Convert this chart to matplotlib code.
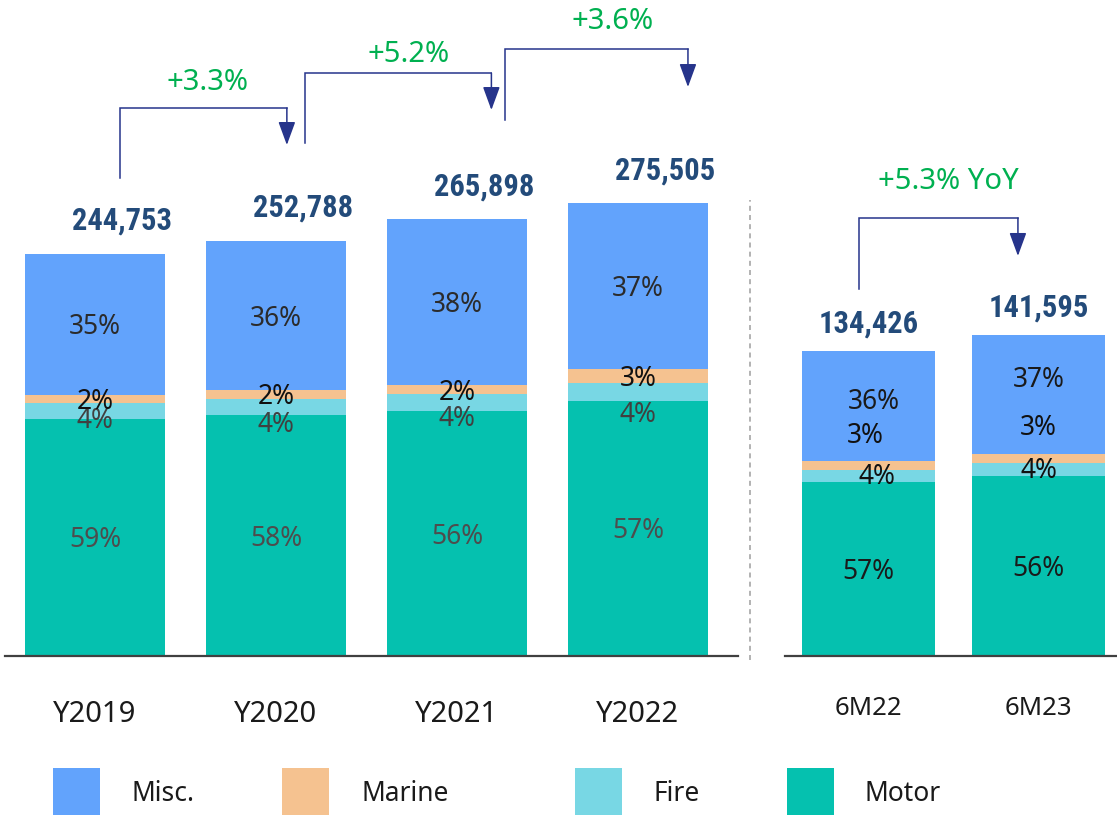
import matplotlib
matplotlib.use("Agg")
import matplotlib.pyplot as plt
from matplotlib import font_manager
from matplotlib.font_manager import FontProperties
from matplotlib.patches import Rectangle
import numpy as np

# ---------------- data ----------------
year_cats = ["Y2019", "Y2020", "Y2021", "Y2022"]
year_totals = [244753, 252788, 265898, 275505]
year_motor = [59, 58, 56, 57]
year_fire = [4, 4, 4, 4]
year_marine = [2, 2, 2, 3]
year_misc = [35, 36, 38, 37]
year_growth = ["+3.3%", "+5.2%", "+3.6%"]

half_cats = ["6M22", "6M23"]
half_totals = [134426, 141595]
half_motor = [57, 56]
half_fire = [4, 4]
half_marine = [3, 3]
half_misc = [36, 37]
half_growth = ["+5.3% YoY"]

segment_names = ["Motor", "Fire", "Marine", "Misc."]
legend_order = ["Misc.", "Marine", "Fire", "Motor"]

# ---------------- style ----------------
colors = {"Misc.": "#62A3FC", "Marine": "#F5C290", "Fire": "#78D7E4", "Motor": "#05C1AF"}
total_color = "#234B7A"
green = "#00B050"
arrow_color = "#26348B"

ttf = font_manager.fontManager.ttflist
avail = {f.name for f in ttf}
base_font = "Noto Sans" if "Noto Sans" in avail else "DejaVu Sans"
plt.rcParams["font.family"] = [base_font, "DejaVu Sans"]


def pick_bold_font():
    prefs = ["Liberation Sans Narrow", "Roboto Condensed", "Noto Sans", "Open Sans",
             "Roboto", "Liberation Sans", "DejaVu Sans"]
    stretch_rank = {"ultra-condensed": 0, "extra-condensed": 1, "condensed": 2,
                    "semi-condensed": 3}

    def weight_num(w):
        if isinstance(w, (int, float)):
            return w
        return font_manager.weight_dict.get(w, 400)

    best = None
    for fam_i, fam in enumerate(prefs):
        for f in ttf:
            if f.name != fam or f.style != "normal":
                continue
            w = weight_num(f.weight)
            if w < 600 or w > 750:
                continue
            st = f.stretch if isinstance(f.stretch, str) else "normal"
            sr = stretch_rank.get(st, 9)
            key = (sr, fam_i, abs(w - 700))
            if best is None or key < best[0]:
                best = (key, f.fname)
    if best is None:
        return FontProperties(family="DejaVu Sans", weight="bold")
    return FontProperties(fname=best[1])


bold_fp = pick_bold_font()

W, H = 1117, 815
fig = plt.figure(figsize=(W / 100, H / 100), dpi=100)

BASE = 656  # baseline pixel row from top


def make_axes(x0, x1):
    return fig.add_axes([x0 / W, (H - BASE) / H, (x1 - x0) / W, BASE / H])


axL = make_axes(5, 738)
axR = make_axes(785, 1117)

px_to_pt = 72 / 100.0
LABEL_SHIFT = -3  # px, visual centring of glyphs


def draw_panel(ax, cats, totals, motor, fire, marine, misc, px_per_unit, bar_w,
               xlim, label_offsets, label_colors, total_dx, total_dy_px, pad_pt, cat_size):
    x = np.arange(len(cats))
    segs = {"Motor": motor, "Fire": fire, "Marine": marine, "Misc.": misc}
    sums = np.array(motor) + np.array(fire) + np.array(marine) + np.array(misc)
    bottom = np.zeros(len(cats))
    for name in segment_names:
        vals = np.array(segs[name]) / sums * np.array(totals)
        ax.bar(x, vals, bar_w, bottom=bottom, color=colors[name], linewidth=0, zorder=2)
        for i in range(len(cats)):
            cy = bottom[i] + vals[i] / 2
            dx, dy = label_offsets[name][i]
            ax.annotate(f"{segs[name][i]}%", (x[i], cy),
                        xytext=(dx * px_to_pt, (dy + LABEL_SHIFT) * px_to_pt),
                        textcoords="offset points", ha="center", va="center",
                        fontsize=19, color=label_colors[name], zorder=5)
        bottom += vals
    for i in range(len(cats)):
        fp = bold_fp.copy()
        fp.set_size(22)
        ax.annotate(f"{totals[i]:,}", (x[i] + total_dx, totals[i]),
                    xytext=(0, total_dy_px * px_to_pt), textcoords="offset points",
                    ha="center", va="center", fontproperties=fp, color=total_color)
    ax.set_xlim(*xlim)
    ax.set_ylim(0, BASE * px_per_unit)
    ax.set_xticks(x)
    ax.set_xticklabels(cats, fontsize=cat_size, color="#1a1a1a")
    ax.tick_params(axis="x", length=0, pad=pad_pt)
    ax.set_yticks([])
    for s in ["top", "right", "left"]:
        ax.spines[s].set_visible(False)
    ax.spines["bottom"].set_color("#404040")
    ax.spines["bottom"].set_linewidth(1.6)
    ax.patch.set_alpha(0)


def draw_arrow(ax, x0, x1, yb, yt, ytip, label, lx, ly, size):
    ax.plot([x0, x0, x1], [yb, yt, yt], color=arrow_color, lw=1.1, clip_on=False,
            solid_joinstyle="miter", zorder=6)
    ax.annotate("", xy=(x1, ytip), xytext=(x1, yt),
                arrowprops=dict(arrowstyle="-|>,head_length=0.6,head_width=0.22",
                                mutation_scale=24, color=arrow_color, lw=1.1,
                                shrinkA=0, shrinkB=0), annotation_clip=False, zorder=6)
    ax.text(lx, ly, label, ha="center", va="center", fontsize=size, color=green)


# left panel: 1 px = upl units
upl = 608.8
offL = {"Motor": [(0, 0)] * 4, "Fire": [(0, -7), (0, -15), (0, -13), (0, -20)],
        "Marine": [(0, 0)] * 4, "Misc.": [(0, 0)] * 4}
colL = {"Motor": "#4d4d4d", "Fire": "#404040", "Marine": "#111111", "Misc.": "#2b2b2b"}
draw_panel(axL, year_cats, year_totals, year_motor, year_fire, year_marine, year_misc,
           upl, 140 / 181, ((5 - 95) / 181, (738 - 95) / 181), offL, colL,
           27 / 181, 33, 32, 21)

arrowsL = [  # x0, x1, y-bottom, y-top, y-tip, label x, label y
    (0.14, 1.06, 291000, 333600, 311100, 0.62, 349400),
    (1.16, 2.19, 312300, 354900, 332400, 1.73, 365900),
    (2.265, 3.276, 326300, 369500, 346400, 2.86, 386000),
]
for (x0, x1, yb, yt, yp, lx, ly), g in zip(arrowsL, year_growth):
    draw_arrow(axL, x0, x1, yb, yt, yp, g, lx, ly, 21)

# right panel
upr = 440.7
offR = {"Motor": [(0, 0)] * 2, "Fire": [(8, 2), (0, 2)],
        "Marine": [(-3, 32), (0, 33)], "Misc.": [(5, 7), (0, 17)]}
colR = {"Motor": "#1a1a1a", "Fire": "#111111", "Marine": "#111111", "Misc.": "#1a1a1a"}
draw_panel(axR, half_cats, half_totals, half_motor, half_fire, half_marine, half_misc,
           upr, 133 / 170, ((785 - 868.5) / 170, (1117 - 868.5) / 170), offR, colR,
           0, 27, 29, 18.5)
draw_arrow(axR, -0.056, 0.879, 161700, 193000, 176300, half_growth[0], 0.468, 209300, 21)

# dashed separator
fig.add_artist(plt.Line2D([750 / W, 750 / W], [(H - 660) / H, (H - 200) / H],
                          color="#A6A6A6", lw=1.2, ls=(0, (3, 2.5))))

# legend
leg_x = {"Misc.": (53, 132), "Marine": (282, 361), "Fire": (575, 653), "Motor": (787, 865)}
for name in legend_order:
    bx, tx = leg_x[name]
    fig.add_artist(Rectangle((bx / W, 0), 47 / W, 47 / H, transform=fig.transFigure,
                             color=colors[name], linewidth=0))
    fig.text(tx / W, (H - 794) / H, name, ha="left", va="center", fontsize=19,
             color="#1a1a1a")

fig.savefig("out.png", dpi=100)
